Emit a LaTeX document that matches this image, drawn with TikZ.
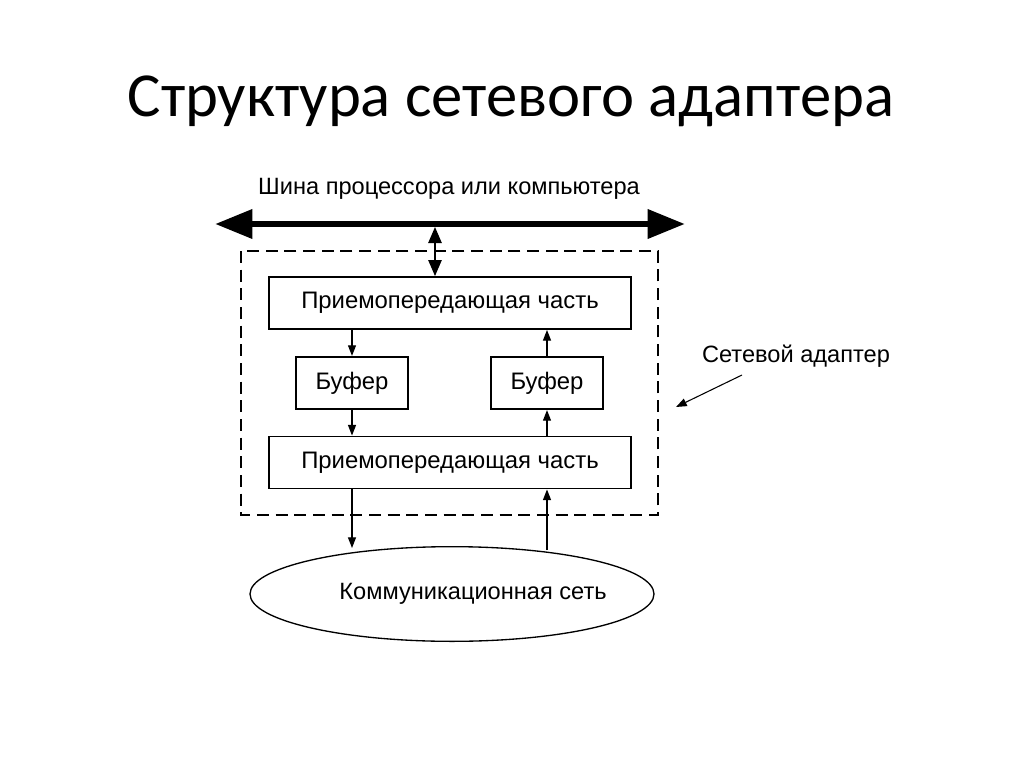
\documentclass[tikz,border=0pt]{standalone}
\usepackage{fontspec}
\setmainfont{Liberation Sans}
\newfontfamily\titlefont{Carlito}
\usetikzlibrary{arrows.meta,shapes.geometric}
\begin{document}
\begin{tikzpicture}[x=0.75pt,y=-0.75pt,
  blk/.style={draw, line width=1.4pt, minimum height=39pt, inner sep=0pt, font=\fontsize{17.9}{20}\selectfont},
  buf/.style={draw, line width=1.6pt, minimum width=84pt, minimum height=39pt, inner sep=0pt, font=\fontsize{17.9}{20}\selectfont},
  conn/.style={line width=0.9pt, -{Triangle[length=8pt,width=6pt]}},
  lbl/.style={font=\fontsize{17.7}{20}\selectfont, inner sep=0pt}]
\useasboundingbox (0,0) rectangle (1024,767);
\node[font=\titlefont\fontsize{47}{54}\selectfont, inner sep=0pt] (title) at (511,101) {Структура сетевого адаптера};
\node[lbl] (buslbl) at (449,189) {Шина процессора или компьютера};
\coordinate (busL) at (215,224);
\coordinate (busR) at (685,224);
\draw[line width=5pt, {Triangle[length=28pt,width=21pt]}-{Triangle[length=28pt,width=21pt]}] (busL) -- (busR);
\coordinate (busJ) at (435,227);
\draw[line width=1pt, dash pattern=on 9pt off 5pt] (241,251) rectangle (658,515);
\node[blk, minimum width=271.5pt] (tr1) at (450,303) {Приемопередающая часть};
\node[blk, minimum width=271.5pt] (tr2) at (450,462.5) {Приемопередающая часть};
\node[buf] (b1) at (352,383) {Буфер};
\node[buf] (b2) at (547,383) {Буфер};
\draw[line width=1.2pt, {Triangle[length=12pt,width=10pt]}-{Triangle[length=12pt,width=10pt]}] (busJ) -- (tr1.north -| busJ);
\draw[conn] (tr1.south -| b1) -- (b1.north);
\draw[conn] (b1.south) -- (tr2.north -| b1);
\draw[conn] (b2.north) -- (tr1.south -| b2);
\draw[conn] (tr2.north -| b2) -- (b2.south);
\node[ellipse, draw, line width=1pt, minimum width=303pt, minimum height=71pt, inner sep=0pt] (net) at (452,594) {};
\node[lbl] (netlbl) at (473,594) {Коммуникационная сеть};
\coordinate (netA) at (352,548);
\coordinate (netB) at (547,550);
\draw[conn] (tr2.south -| b1) -- (netA);
\draw[conn] (netB) -- (tr2.south -| b2);
\node[lbl] (adlbl) at (796,356) {Сетевой адаптер};
\coordinate (adS) at (742,375);
\coordinate (adE) at (676,407);
\draw[conn, line width=0.8pt] (adS) -- (adE);
\end{tikzpicture}
\end{document}
